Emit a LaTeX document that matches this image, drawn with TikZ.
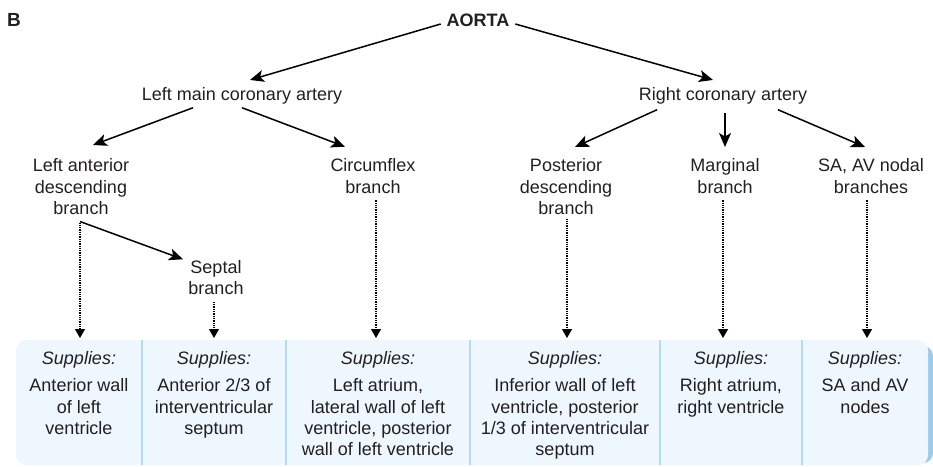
\documentclass[tikz,border=0pt]{standalone}
\usepackage{fontspec}
\setmainfont{Liberation Sans}
\usetikzlibrary{arrows.meta,calc}
\definecolor{txt}{HTML}{231F20}
\definecolor{boxfill}{HTML}{EDF7FD}
\definecolor{boxline}{HTML}{B3DBF2}
\definecolor{boxshadow}{HTML}{98CDEE}
\newcommand\fs{\fontsize{18}{21.3}\selectfont}
\begin{document}
\begin{tikzpicture}[x=1pt,y=1pt,
  every node/.style={inner sep=0pt, outer sep=0pt, text=txt, font=\fs},
  lbl/.style={align=center, anchor=north},
  one/.style={anchor=base},
  arr/.style={draw=black, line width=1.5pt, -{Stealth[length=14pt,width=12pt,inset=3.5pt]}},
  dotarr/.style={draw=black, line width=1.3pt, densely dotted, -{Triangle[length=9pt,width=10pt]}},
  cell/.style={minimum height=125pt, anchor=north west},
  divider/.style={draw=boxline, line width=1.5pt},
]
\useasboundingbox (0,0) rectangle (933,-466);

% titles
\node[one, font=\fontsize{19}{21.3}\selectfont\bfseries] (B) at (14,-26.7) {B};
\node[one, font=\fs\bfseries] (aorta) at (478,-26.7) {AORTA};
\node[one] (lmca) at (242,-100) {Left main coronary artery};
\node[one] (rca) at (723,-100) {Right coronary artery};

% branches
\node[lbl] (lad) at (81,-158.7) {Left anterior\\descending\\branch};
\node[lbl] (cx) at (373,-158.7) {Circumflex\\branch};
\node[lbl] (sep) at (216,-260.3) {Septal\\branch};
\node[lbl] (pd) at (566,-158.7) {Posterior\\descending\\branch};
\node[lbl] (mg) at (725,-158.7) {Marginal\\branch};
\node[lbl] (sa) at (871,-158.7) {SA, AV nodal\\branches};

% cells of the supply table
\node[cell, minimum width=126pt] (c1) at (16,-340) {};
\node[cell, minimum width=144pt] (c2) at (142,-340) {};
\node[cell, minimum width=184pt] (c3) at (286,-340) {};
\node[cell, minimum width=190pt] (c4) at (470,-340) {};
\node[cell, minimum width=142pt] (c5) at (660,-340) {};
\node[cell, minimum width=126pt] (c6) at (802,-340) {};

\fill[boxshadow, rounded corners=10pt] ($(c1.north west)+(8,-6)$) rectangle ($(c6.south east)+(5,2)$);
\fill[boxfill, rounded corners=10pt] (c1.north west) rectangle (c6.south east);
\foreach \c in {c1,c2,c3,c4,c5}
  \draw[divider] (\c.north east) -- (\c.south east);

\node[lbl] (t1) at ($(c1.north)+(0,-11)$) {\textit{Supplies:}\\[6.4pt]Anterior wall\\of left\\ventricle};
\node[lbl] (t2) at ($(c2.north)+(0,-11)$) {\textit{Supplies:}\\[6.4pt]Anterior 2/3 of\\interventricular\\septum};
\node[lbl] (t3) at ($(c3.north)+(0,-11)$) {\textit{Supplies:}\\[6.4pt]Left atrium,\\lateral wall of left\\ventricle, posterior\\wall of left ventricle};
\node[lbl] (t4) at ($(c4.north)+(0,-11)$) {\textit{Supplies:}\\[6.4pt]Inferior wall of left\\ventricle, posterior\\1/3 of interventricular\\septum};
\node[lbl] (t5) at ($(c5.north)+(0,-11)$) {\textit{Supplies:}\\[6.4pt]Right atrium,\\right ventricle};
\node[lbl] (t6) at ($(c6.north)+(0,-11)$) {\textit{Supplies:}\\[6.4pt]SA and AV\\nodes};

% solid arrows
\draw[arr] ($(aorta.west)+(-6,-3.5)$) -- ($(lmca.north)+(8,7)$);
\draw[arr] ($(aorta.east)+(6,-3.5)$) -- ($(rca.north)+(-10,7)$);
\draw[arr] ($(lmca.south)+(-49,-4)$) -- ($(lad.north)+(12,13.7)$);
\draw[arr] ($(lmca.south)+(0,-4)$) -- ($(cx.north)+(-28,12)$);
\draw[arr] ($(lad.south)+(-1,-7)$) -- ($(sep.north west)+(-5.5,1)$);
\draw[arr] ($(rca.south)+(-66,-6)$) -- ($(pd.north)+(9,11.7)$);
\draw[arr] ($(rca.south)+(2,-9)$) -- ($(mg.north)+(0,11.7)$);
\draw[arr] ($(rca.south)+(55,-6)$) -- ($(sa.north)+(-6,11.7)$);

% dotted arrows
\draw[dotarr] ($(lad.south)+(-1,-8)$) -- ($(lad.south |- c1.north)+(-1,2)$);
\draw[dotarr] ($(sep.south)+(-2,-7)$) -- ($(sep.south |- c2.north)+(-2,2)$);
\draw[dotarr] ($(cx.south)+(3,-7)$) -- ($(cx.south |- c3.north)+(3,2)$);
\draw[dotarr] ($(pd.south)+(1,-4)$) -- ($(pd.south |- c4.north)+(1,2)$);
\draw[dotarr] ($(mg.south)+(-2,-7)$) -- ($(mg.south |- c5.north)+(-2,2)$);
\draw[dotarr] ($(sa.south)+(-4,-7)$) -- ($(sa.south |- c6.north)+(-4,2)$);
\end{tikzpicture}
\end{document}
